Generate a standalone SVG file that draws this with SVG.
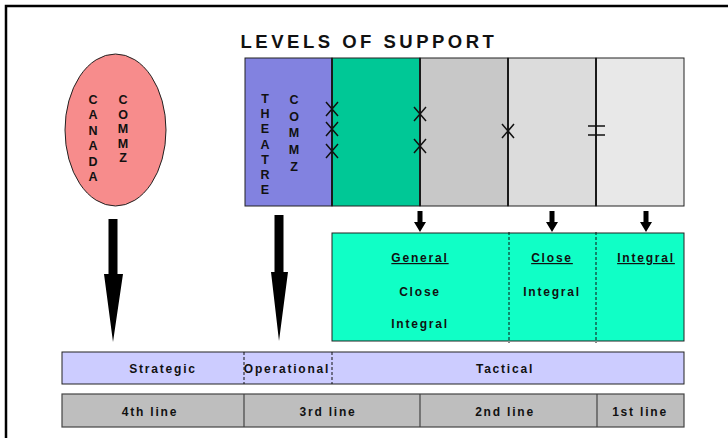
<svg xmlns="http://www.w3.org/2000/svg" width="728" height="438" viewBox="0 0 728 438">
<style>
text{font-family:"Liberation Sans",Arial,sans-serif;font-weight:bold;fill:#111;}
.v{font-size:12.5px;text-anchor:middle;}
.lb{font-size:12px;letter-spacing:1.8px;text-anchor:middle;}
.u{text-decoration:underline;}
.box{stroke:#222;stroke-width:1;}
.div{stroke:#1a1a1a;stroke-width:2;}
.x{stroke:#111;stroke-width:1.5;fill:none;}
.dash{stroke:#111;stroke-width:1;stroke-dasharray:3,2;}
</style>
<rect width="728" height="438" fill="#fff"/>
<path d="M6,438 V6 H728" fill="none" stroke="#000" stroke-width="2.5"/>
<text x="369" y="48" font-size="18.5" letter-spacing="3.5" text-anchor="middle">LEVELS OF SUPPORT</text>

<g id="canada-commz">
<ellipse cx="115.5" cy="130" rx="50.5" ry="76" fill="#f78c8c" stroke="#222" stroke-width="1"/>
<text class="v"><tspan x="93" y="104">C</tspan><tspan x="93" y="119.4">A</tspan><tspan x="93" y="134.8">N</tspan><tspan x="93" y="150.2">A</tspan><tspan x="93" y="165.6">D</tspan><tspan x="93" y="181">A</tspan></text>
<text class="v"><tspan x="123" y="104">C</tspan><tspan x="123" y="118.5">O</tspan><tspan x="123" y="133">M</tspan><tspan x="123" y="147.5">M</tspan><tspan x="123" y="162">Z</tspan></text>
</g>

<g id="top-boxes">
<rect class="box" x="245" y="58" width="87" height="148" fill="#8282e0"/>
<rect class="box" x="332" y="58" width="88" height="148" fill="#00c896"/>
<rect class="box" x="420" y="58" width="88" height="148" fill="#c8c8c8"/>
<rect class="box" x="508" y="58" width="88" height="148" fill="#dcdcdc"/>
<rect class="box" x="596" y="58" width="88" height="148" fill="#e8e8e8"/>
<line class="div" x1="332" y1="58" x2="332" y2="206"/>
<line class="div" x1="420" y1="58" x2="420" y2="206"/>
<line class="div" x1="508" y1="58" x2="508" y2="206"/>
<line class="div" x1="596" y1="58" x2="596" y2="206"/>
<text class="v"><tspan x="265" y="103">T</tspan><tspan x="265" y="118.2">H</tspan><tspan x="265" y="133.4">E</tspan><tspan x="265" y="148.6">A</tspan><tspan x="265" y="163.8">T</tspan><tspan x="265" y="179">R</tspan><tspan x="265" y="194.2">E</tspan></text>
<text class="v"><tspan x="294" y="104">C</tspan><tspan x="294" y="120.7">O</tspan><tspan x="294" y="137.4">M</tspan><tspan x="294" y="154.1">M</tspan><tspan x="294" y="170.8">Z</tspan></text>
<path class="x" d="M326,102 L338,116 M338,102 L326,116 M326,122 L338,136 M338,122 L326,136 M326,144 L338,158 M338,144 L326,158"/>
<path class="x" d="M414,107 L426,121 M426,107 L414,121 M414,139 L426,153 M426,139 L414,153"/>
<path class="x" d="M502,124 L514,138 M514,124 L502,138"/>
<path class="x" d="M588,126 H605 M588,135 H605" stroke-width="2"/>
</g>

<g id="connectors">
<path d="M108.5,219 H117.5 V274 H123 L113,342 L104,274 H108.5 Z" fill="#000"/>
<path d="M274.5,215 H283.5 V272 H288 L279,341 L271,272 H274.5 Z" fill="#000"/>
<path d="M417.5,211 H422.5 V222 H426 L420,232 L414,222 H417.5 Z" fill="#000"/>
<path d="M549.5,211 H554.5 V222 H558 L552,232 L546,222 H549.5 Z" fill="#000"/>
<path d="M643.5,211 H648.5 V222 H652 L646,232 L640,222 H643.5 Z" fill="#000"/>
</g>

<g id="support-types">
<rect class="box" x="332" y="233" width="352" height="108" fill="#10ffc6"/>
<line class="dash" x1="509" y1="232" x2="509" y2="343"/>
<line class="dash" x1="596" y1="232" x2="596" y2="343"/>
<text class="lb u" x="420" y="262">General</text>
<text class="lb" x="420" y="296">Close</text>
<text class="lb" x="420" y="328">Integral</text>
<text class="lb u" x="552" y="262">Close</text>
<text class="lb" x="552" y="296">Integral</text>
<text class="lb u" x="646" y="262">Integral</text>
</g>

<g id="levels-bar">
<rect class="box" x="62" y="352" width="622" height="32" fill="#ccccff"/>
<line class="dash" x1="244" y1="352" x2="244" y2="384" stroke-dasharray="5,4"/>
<line class="dash" x1="332" y1="352" x2="332" y2="384" stroke-dasharray="5,4"/>
<text class="lb" x="163" y="373">Strategic</text>
<text class="lb" x="287" y="373">Operational</text>
<text class="lb" x="505" y="373">Tactical</text>
</g>

<g id="lines-bar">
<rect x="62" y="394" width="622" height="33" fill="#bebebe" stroke="#444" stroke-width="1.2"/>
<line x1="244" y1="394" x2="244" y2="427" stroke="#444" stroke-width="1.2"/>
<line x1="420" y1="394" x2="420" y2="427" stroke="#444" stroke-width="1.2"/>
<line x1="597" y1="394" x2="597" y2="427" stroke="#444" stroke-width="1.2"/>
<text class="lb" x="150" y="416">4th line</text>
<text class="lb" x="328" y="416">3rd line</text>
<text class="lb" x="505" y="416">2nd line</text>
<text class="lb" x="640" y="416">1st line</text>
</g>
</svg>
